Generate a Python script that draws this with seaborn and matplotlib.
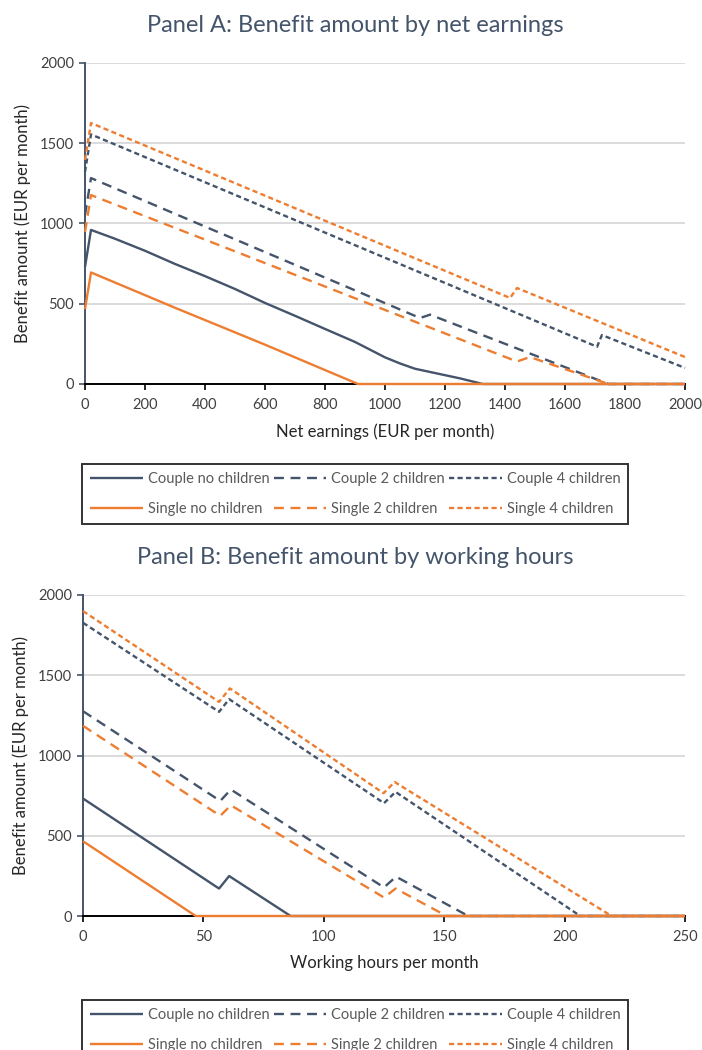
import numpy as np
import pandas as pd
import matplotlib
matplotlib.use("Agg")
import matplotlib.pyplot as plt
import seaborn as sns

# ---------------- data: Panel A (benefit by net earnings) ----------------
earn_couple0 = [0, 20, 100, 200, 300, 400, 500, 600, 700, 800, 900, 1000, 1050, 1100, 1150, 1200, 1250, 1300, 1325, 2000]
ben_couple0 = [729, 960, 905, 830, 748, 672, 592, 505, 425, 343, 262, 166, 128, 95, 75, 55, 35, 12, 0, 0]
earn_single0 = [0, 20, 300, 600, 910, 2000]
ben_single0 = [466, 695, 475, 245, 0, 0]
earn_couple2 = [0, 20, 1117, 1150, 1745, 2000]
ben_couple2 = [1053, 1283, 411, 432, 0, 0]
earn_single2 = [0, 20, 1440, 1483, 1745, 2000]
ben_single2 = [947, 1177, 140, 168, 0, 0]
earn_couple4 = [0, 20, 1707, 1723, 2000]
ben_couple4 = [1321, 1555, 232, 305, 100]
earn_single4 = [0, 20, 1417, 1440, 2000]
ben_single4 = [1396, 1626, 536, 598, 168]

# ---------------- data: Panel B (benefit by working hours) ----------------
hrs_couple0 = [0, 56.5, 60.7, 86.2, 250]
hb_couple0 = [732, 171, 249, 0, 0]
hrs_single0 = [0, 46.8, 250]
hb_single0 = [466, 0, 0]
hrs_couple2 = [0, 57, 61.4, 125, 130, 160, 250]
hb_couple2 = [1276, 717, 788, 178, 245, 0, 0]
hrs_single2 = [0, 57, 61.4, 125, 129.8, 151, 250]
hb_single2 = [1185, 624, 690, 115, 171, 0, 0]
hrs_couple4 = [0, 56.5, 60.7, 125, 129.8, 206.5, 250]
hb_couple4 = [1827, 1272, 1351, 703, 773, 0, 0]
hrs_single4 = [0, 56.5, 61, 124.8, 129.4, 219.5, 250]
hb_single4 = [1900, 1334, 1418, 765, 835, 0, 0]

households = ["Couple no children", "Single no children",
              "Couple 2 children", "Single 2 children",
              "Couple 4 children", "Single 4 children"]

panel_titles = ["Panel A: Benefit amount by net earnings",
                "Panel B: Benefit amount by working hours"]
x_labels = ["Net earnings (EUR per month)", "Working hours per month"]
y_label = "Benefit amount (EUR per month)"
y_ticks = [0, 500, 1000, 1500, 2000]
x_ticks_a = [0, 200, 400, 600, 800, 1000, 1200, 1400, 1600, 1800, 2000]
x_ticks_b = [0, 50, 100, 150, 200, 250]

# ---------------- build long frames ----------------
def build(pairs):
    rows = []
    for name, (xs, ys) in zip(households, pairs):
        for xv, yv in zip(xs, ys):
            rows.append({"x": xv, "y": yv, "household": name})
    return pd.DataFrame(rows)

dfA = build([(earn_couple0, ben_couple0), (earn_single0, ben_single0),
             (earn_couple2, ben_couple2), (earn_single2, ben_single2),
             (earn_couple4, ben_couple4), (earn_single4, ben_single4)])
dfB = build([(hrs_couple0, hb_couple0), (hrs_single0, hb_single0),
             (hrs_couple2, hb_couple2), (hrs_single2, hb_single2),
             (hrs_couple4, hb_couple4), (hrs_single4, hb_single4)])

BLUE = "#44546A"
ORANGE = "#ED7D31"
palette = {h: (BLUE if h.startswith("Couple") else ORANGE) for h in households}
long_d = (4.2, 2.8)
short_d = (2.2, 1.4)
dashes = {"Couple no children": "", "Single no children": "",
          "Couple 2 children": long_d, "Single 2 children": long_d,
          "Couple 4 children": short_d, "Single 4 children": short_d}

sns.set_theme(style="white")
plt.rcParams['font.family'] = ['Lato', 'DejaVu Sans']

fig = plt.figure(figsize=(7.02, 10.5), dpi=100)
W, H = 702.0, 1050.0

axes_px = [(85, 685, 63, 384), (83, 685, 595, 916)]
title_y = [25, 558]
legend_top = [464, 1000]

for i, (df, xt) in enumerate([(dfA, x_ticks_a), (dfB, x_ticks_b)]):
    l, r, t, b = axes_px[i]
    ax = fig.add_axes([l / W, 1 - b / H, (r - l) / W, (b - t) / H])
    sns.lineplot(data=df, x="x", y="y", hue="household", style="household",
                 hue_order=households, style_order=households,
                 palette=palette, dashes=dashes, estimator=None, sort=False,
                 linewidth=1.7, ax=ax, legend=False)
    for ln in ax.lines:
        ln.set_clip_on(False)
        ln.set_solid_capstyle("butt")
        ln.set_dash_capstyle("butt")
    for k, ln in enumerate(ax.lines):
        ln.set_zorder(3 + (1 if k % 2 == 1 else 0))

    ax.set_xlim(xt[0], xt[-1])
    ax.set_ylim(0, 2000)
    ax.set_xticks(xt)
    ax.set_yticks(y_ticks)
    ax.grid(axis="y", color="#D9D9D9", linewidth=1.3)
    ax.set_axisbelow(True)
    for s in ["top", "right"]:
        ax.spines[s].set_visible(False)
    ax.spines["left"].set_color(BLUE)
    ax.spines["left"].set_linewidth(1.4)
    ax.spines["bottom"].set_color("black")
    ax.spines["bottom"].set_linewidth(1.4)
    ax.tick_params(axis="x", direction="out", length=4, width=1.2, color="black",
                   labelsize=10.5, labelcolor="#404040", pad=6, bottom=True)
    ax.tick_params(axis="y", direction="out", length=4, width=1.2, color=BLUE,
                   labelsize=10.5, labelcolor="#404040", pad=4, left=True)
    ax.set_xlabel(x_labels[i], fontsize=12, color="#262626", labelpad=8)
    ax.set_ylabel(y_label, fontsize=12, color="#262626", labelpad=6)

    fig.text(355 / W, 1 - title_y[i] / H, panel_titles[i], ha="center", va="center",
             fontsize=17, color=BLUE)

    handles = ax.lines[:6]
    leg = fig.legend(handles, households,
                     loc="upper left", bbox_to_anchor=(82 / W, 1 - legend_top[i] / H),
                     ncol=3, frameon=True, fancybox=False, fontsize=10.5,
                     handlelength=3.6, handletextpad=0.35, columnspacing=0.3,
                     labelspacing=1.1, borderpad=0.55, borderaxespad=0)
    leg.get_frame().set_edgecolor("black")
    leg.get_frame().set_linewidth(1.4)
    for txt in leg.get_texts():
        txt.set_color("#595959")

fig.savefig("out.png", dpi=100)
